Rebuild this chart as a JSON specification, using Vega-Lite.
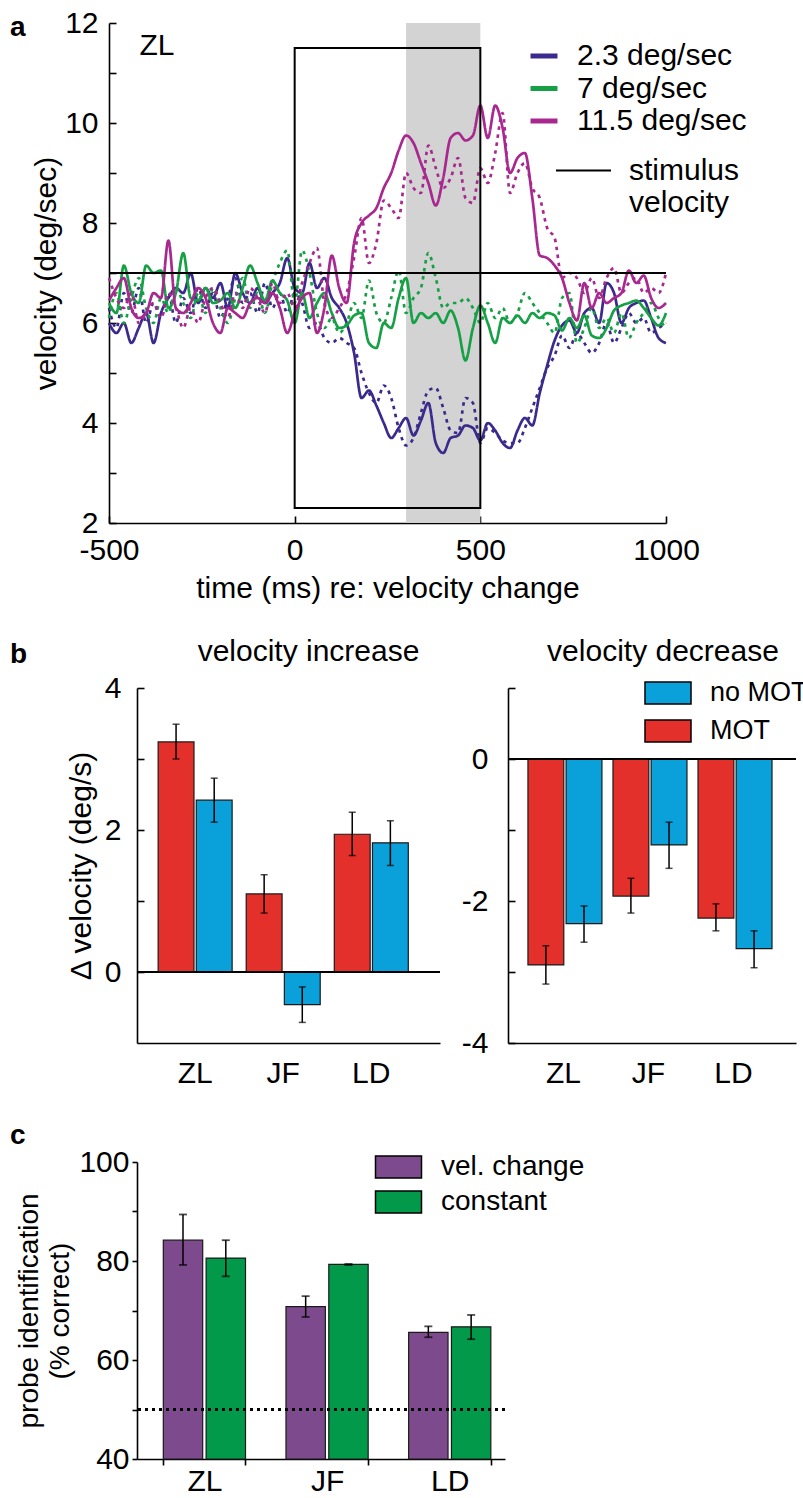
{
  "$schema": "https://vega.github.io/schema/vega-lite/v6.json",
  "background": "white",
  "padding": {"left": 10, "top": 8, "right": 0, "bottom": 0},
  "columns": 1,
  "spacing": 34,
  "resolve": {"scale": {"color": "independent", "xOffset": "independent", "x": "independent", "y": "independent", "strokeDash": "independent"}, "legend": {"color": "independent", "strokeDash": "independent"}},
  "config": {
    "font": "Liberation Sans",
    "view": {"stroke": null},
    "axis": {"domainColor": "black", "tickColor": "black", "labelColor": "black", "titleColor": "black", "grid": false, "labelFont": "Liberation Sans", "titleFont": "Liberation Sans", "titleFontWeight": "normal", "domainWidth": 1.6, "tickWidth": 1.6, "labelOverlap": false},
    "legend": {"labelFont": "Liberation Sans", "labelColor": "black", "labelLimit": 400},
    "title": {"font": "Liberation Sans", "color": "black"}
  },
  "datasets": {
    "trace": [
      {"t": -500, "bs": 6.0, "bd": 6.3, "gs": 6.4, "gd": 6.1, "ms": 6.45, "md": 6.9},
      {"t": -480, "bs": 5.8, "bd": 5.9, "gs": 6.2, "gd": 6.6, "ms": 6.7, "md": 6.5},
      {"t": -460, "bs": 6.0, "bd": 6.6, "gs": 7.15, "gd": 6.0, "ms": 6.9, "md": 6.3},
      {"t": -440, "bs": 5.6, "bd": 6.2, "gs": 6.6, "gd": 6.5, "ms": 6.3, "md": 6.6},
      {"t": -420, "bs": 5.9, "bd": 6.7, "gs": 6.4, "gd": 6.9, "ms": 6.1, "md": 6.0},
      {"t": -400, "bs": 6.2, "bd": 6.0, "gs": 7.15, "gd": 6.3, "ms": 6.2, "md": 6.2},
      {"t": -380, "bs": 5.6, "bd": 6.4, "gs": 7.0, "gd": 6.0, "ms": 6.6, "md": 6.4},
      {"t": -360, "bs": 6.2, "bd": 6.1, "gs": 7.05, "gd": 6.5, "ms": 6.5, "md": 6.1},
      {"t": -340, "bs": 6.5, "bd": 6.6, "gs": 6.3, "gd": 6.2, "ms": 7.65, "md": 6.6},
      {"t": -320, "bs": 6.7, "bd": 6.0, "gs": 6.6, "gd": 6.7, "ms": 6.3, "md": 6.3},
      {"t": -300, "bs": 6.6, "bd": 6.5, "gs": 7.4, "gd": 6.4, "ms": 6.2, "md": 5.9},
      {"t": -280, "bs": 7.0, "bd": 6.2, "gs": 6.5, "gd": 6.1, "ms": 6.4, "md": 6.3},
      {"t": -260, "bs": 6.4, "bd": 6.7, "gs": 6.45, "gd": 6.6, "ms": 6.7, "md": 6.0},
      {"t": -240, "bs": 6.7, "bd": 6.3, "gs": 6.7, "gd": 6.2, "ms": 6.5, "md": 6.5},
      {"t": -220, "bs": 6.5, "bd": 6.6, "gs": 6.4, "gd": 6.7, "ms": 6.0, "md": 6.7},
      {"t": -200, "bs": 6.8, "bd": 6.1, "gs": 6.45, "gd": 6.3, "ms": 5.8, "md": 6.4},
      {"t": -180, "bs": 6.3, "bd": 6.5, "gs": 6.6, "gd": 6.0, "ms": 6.3, "md": 6.1},
      {"t": -160, "bs": 7.0, "bd": 6.9, "gs": 6.3, "gd": 6.5, "ms": 6.2, "md": 6.6},
      {"t": -140, "bs": 6.6, "bd": 6.4, "gs": 6.7, "gd": 6.9, "ms": 6.1, "md": 6.3},
      {"t": -120, "bs": 6.4, "bd": 6.6, "gs": 7.15, "gd": 6.3, "ms": 6.4, "md": 6.7},
      {"t": -100, "bs": 6.7, "bd": 6.2, "gs": 6.8, "gd": 6.6, "ms": 6.5, "md": 6.5},
      {"t": -80, "bs": 6.4, "bd": 6.8, "gs": 6.45, "gd": 6.2, "ms": 6.4, "md": 6.2},
      {"t": -60, "bs": 6.6, "bd": 6.3, "gs": 6.85, "gd": 6.8, "ms": 6.6, "md": 6.8},
      {"t": -40, "bs": 6.8, "bd": 6.6, "gs": 6.6, "gd": 7.2, "ms": 6.3, "md": 6.4},
      {"t": -20, "bs": 7.3, "bd": 6.2, "gs": 6.45, "gd": 7.45, "ms": 5.8, "md": 6.6},
      {"t": 0, "bs": 6.7, "bd": 6.6, "gs": 6.0, "gd": 6.4, "ms": 6.2, "md": 6.3},
      {"t": 20, "bs": 6.6, "bd": 6.4, "gs": 6.6, "gd": 7.45, "ms": 6.5, "md": 6.8},
      {"t": 40, "bs": 7.2, "bd": 5.9, "gs": 6.1, "gd": 7.0, "ms": 6.6, "md": 7.2},
      {"t": 60, "bs": 6.7, "bd": 6.0, "gs": 6.4, "gd": 6.2, "ms": 5.8, "md": 7.5},
      {"t": 80, "bs": 6.9, "bd": 5.7, "gs": 6.6, "gd": 5.9, "ms": 6.3, "md": 6.4},
      {"t": 100, "bs": 6.5, "bd": 5.6, "gs": 6.2, "gd": 6.1, "ms": 7.35, "md": 6.1},
      {"t": 120, "bs": 6.3, "bd": 5.7, "gs": 5.9, "gd": 5.8, "ms": 6.7, "md": 6.3},
      {"t": 140, "bs": 6.0, "bd": 5.6, "gs": 5.95, "gd": 6.0, "ms": 6.4, "md": 6.6},
      {"t": 160, "bs": 5.4, "bd": 5.5, "gs": 6.15, "gd": 6.4, "ms": 7.6, "md": 7.3},
      {"t": 180, "bs": 4.5, "bd": 5.0, "gs": 6.2, "gd": 6.1, "ms": 8.0, "md": 8.1},
      {"t": 200, "bs": 4.65, "bd": 4.6, "gs": 5.6, "gd": 6.85, "ms": 8.15, "md": 7.2},
      {"t": 220, "bs": 4.35, "bd": 4.4, "gs": 5.5, "gd": 6.2, "ms": 8.3, "md": 7.6},
      {"t": 240, "bs": 4.0, "bd": 4.75, "gs": 6.0, "gd": 6.0, "ms": 8.7, "md": 8.45},
      {"t": 260, "bs": 3.7, "bd": 4.5, "gs": 5.9, "gd": 6.5, "ms": 9.0, "md": 8.3},
      {"t": 280, "bs": 3.9, "bd": 3.9, "gs": 6.5, "gd": 7.05, "ms": 9.45, "md": 8.1},
      {"t": 300, "bs": 4.1, "bd": 3.55, "gs": 6.9, "gd": 6.2, "ms": 9.75, "md": 9.0},
      {"t": 320, "bs": 3.75, "bd": 3.7, "gs": 6.0, "gd": 6.5, "ms": 9.6, "md": 8.7},
      {"t": 340, "bs": 4.05, "bd": 4.2, "gs": 6.2, "gd": 6.7, "ms": 9.2, "md": 8.6},
      {"t": 360, "bs": 4.4, "bd": 4.65, "gs": 6.1, "gd": 7.4, "ms": 8.8, "md": 9.55},
      {"t": 380, "bs": 3.6, "bd": 4.7, "gs": 6.2, "gd": 6.9, "ms": 8.35, "md": 9.1},
      {"t": 400, "bs": 3.4, "bd": 4.3, "gs": 6.0, "gd": 6.3, "ms": 8.9, "md": 8.7},
      {"t": 420, "bs": 3.7, "bd": 3.85, "gs": 6.25, "gd": 6.4, "ms": 9.7, "md": 8.9},
      {"t": 440, "bs": 3.75, "bd": 3.8, "gs": 5.9, "gd": 6.4, "ms": 9.8, "md": 9.3},
      {"t": 460, "bs": 3.95, "bd": 4.5, "gs": 5.25, "gd": 6.5, "ms": 9.65, "md": 8.5},
      {"t": 480, "bs": 3.9, "bd": 4.4, "gs": 5.9, "gd": 6.3, "ms": 9.75, "md": 8.4},
      {"t": 500, "bs": 3.65, "bd": 3.6, "gs": 6.35, "gd": 6.0, "ms": 10.35, "md": 9.1},
      {"t": 520, "bs": 4.0, "bd": 3.9, "gs": 6.0, "gd": 6.4, "ms": 9.7, "md": 8.8},
      {"t": 540, "bs": 3.85, "bd": 3.8, "gs": 5.6, "gd": 6.1, "ms": 10.35, "md": 9.4},
      {"t": 560, "bs": 3.6, "bd": 3.65, "gs": 6.1, "gd": 6.3, "ms": 9.9, "md": 10.2},
      {"t": 580, "bs": 3.5, "bd": 3.6, "gs": 6.0, "gd": 6.0, "ms": 9.0, "md": 8.6},
      {"t": 600, "bs": 3.85, "bd": 3.6, "gs": 6.15, "gd": 6.2, "ms": 9.3, "md": 9.0},
      {"t": 620, "bs": 4.1, "bd": 3.9, "gs": 6.0, "gd": 6.6, "ms": 9.4, "md": 9.2},
      {"t": 640, "bs": 3.95, "bd": 4.3, "gs": 6.2, "gd": 6.4, "ms": 8.5, "md": 8.7},
      {"t": 660, "bs": 4.6, "bd": 4.7, "gs": 6.1, "gd": 6.2, "ms": 7.35, "md": 8.5},
      {"t": 680, "bs": 5.15, "bd": 5.1, "gs": 6.2, "gd": 6.0, "ms": 7.3, "md": 7.9},
      {"t": 700, "bs": 5.65, "bd": 5.35, "gs": 6.15, "gd": 5.8, "ms": 7.15, "md": 7.7},
      {"t": 720, "bs": 5.95, "bd": 5.75, "gs": 5.85, "gd": 6.5, "ms": 6.9, "md": 6.9},
      {"t": 740, "bs": 6.05, "bd": 5.5, "gs": 6.1, "gd": 6.6, "ms": 6.4, "md": 7.0},
      {"t": 760, "bs": 5.8, "bd": 5.8, "gs": 5.9, "gd": 5.6, "ms": 6.05, "md": 6.9},
      {"t": 780, "bs": 6.2, "bd": 5.6, "gs": 6.15, "gd": 5.9, "ms": 6.8, "md": 6.6},
      {"t": 800, "bs": 6.3, "bd": 5.4, "gs": 5.75, "gd": 6.3, "ms": 6.3, "md": 6.9},
      {"t": 820, "bs": 6.0, "bd": 5.6, "gs": 5.7, "gd": 5.9, "ms": 6.6, "md": 6.5},
      {"t": 840, "bs": 6.8, "bd": 6.0, "gs": 5.9, "gd": 6.1, "ms": 6.4, "md": 6.9},
      {"t": 860, "bs": 6.6, "bd": 5.6, "gs": 6.25, "gd": 5.8, "ms": 6.5, "md": 7.1},
      {"t": 880, "bs": 6.0, "bd": 5.9, "gs": 6.35, "gd": 6.2, "ms": 6.6, "md": 6.6},
      {"t": 900, "bs": 6.3, "bd": 6.2, "gs": 6.4, "gd": 5.7, "ms": 7.05, "md": 6.8},
      {"t": 920, "bs": 6.4, "bd": 6.0, "gs": 6.45, "gd": 6.0, "ms": 6.8, "md": 6.9},
      {"t": 940, "bs": 6.45, "bd": 6.1, "gs": 6.3, "gd": 6.2, "ms": 6.95, "md": 6.6},
      {"t": 960, "bs": 6.1, "bd": 5.8, "gs": 6.1, "gd": 6.4, "ms": 6.5, "md": 6.7},
      {"t": 980, "bs": 5.7, "bd": 5.9, "gs": 5.95, "gd": 6.1, "ms": 6.3, "md": 6.6},
      {"t": 1000, "bs": 5.6, "bd": 6.0, "gs": 6.2, "gd": 5.9, "ms": 6.4, "md": 7.0}
    ],
    "inc": [
      {"subj": "ZL", "cond": "MOT", "val": 3.24, "lo": 3.0, "hi": 3.49},
      {"subj": "ZL", "cond": "no MOT", "val": 2.42, "lo": 2.11, "hi": 2.73},
      {"subj": "JF", "cond": "MOT", "val": 1.1, "lo": 0.83, "hi": 1.37},
      {"subj": "JF", "cond": "no MOT", "val": -0.46, "lo": -0.71, "hi": -0.21},
      {"subj": "LD", "cond": "MOT", "val": 1.94, "lo": 1.64, "hi": 2.25},
      {"subj": "LD", "cond": "no MOT", "val": 1.82, "lo": 1.5, "hi": 2.13}
    ],
    "dec": [
      {"subj": "ZL", "cond": "MOT", "val": -2.9, "lo": -3.17, "hi": -2.63},
      {"subj": "ZL", "cond": "no MOT", "val": -2.32, "lo": -2.58, "hi": -2.07},
      {"subj": "JF", "cond": "MOT", "val": -1.93, "lo": -2.17, "hi": -1.68},
      {"subj": "JF", "cond": "no MOT", "val": -1.21, "lo": -1.54, "hi": -0.89},
      {"subj": "LD", "cond": "MOT", "val": -2.24, "lo": -2.42, "hi": -2.04},
      {"subj": "LD", "cond": "no MOT", "val": -2.67, "lo": -2.94, "hi": -2.42}
    ],
    "probe": [
      {"subj": "ZL", "cond": "vel. change", "val": 84.2, "lo": 79.2, "hi": 89.4},
      {"subj": "ZL", "cond": "constant", "val": 80.6, "lo": 76.9, "hi": 84.2},
      {"subj": "JF", "cond": "vel. change", "val": 70.8, "lo": 68.7, "hi": 72.9},
      {"subj": "JF", "cond": "constant", "val": 79.3, "lo": 79.2, "hi": 79.4},
      {"subj": "LD", "cond": "vel. change", "val": 65.6, "lo": 64.6, "hi": 66.8},
      {"subj": "LD", "cond": "constant", "val": 66.7, "lo": 64.2, "hi": 69.1}
    ],
    "blank": [{"n": 0}]
  },
  "concat": [
    {
      "width": 557,
      "height": 500,
      "title": {"text": "a", "anchor": "start", "frame": "group", "fontSize": 28, "fontWeight": "bold", "dx": -99, "dy": 48, "offset": 0, "baseline": "middle"},
      "resolve": {"scale": {"strokeDash": "independent"}, "legend": {"strokeDash": "independent"}},
      "layer": [
        {
          "data": {"values": [{"a": 300, "b": 500}]},
          "mark": {"type": "rect", "color": "#d3d3d3"},
          "encoding": {
            "x": {"field": "a", "type": "quantitative", "scale": {"domain": [-500, 1000], "nice": false}},
            "x2": {"field": "b"}
          }
        },
        {
          "data": {"name": "trace"},
          "transform": [{"fold": ["bs", "bd", "gs", "gd", "ms", "md"], "as": ["series", "v"]}],
          "mark": {"type": "line", "interpolate": "monotone", "strokeWidth": 2.7, "strokeCap": "butt"},
          "encoding": {
            "x": {"field": "t", "type": "quantitative", "scale": {"domain": [-500, 1000], "nice": false},
              "axis": {"values": [-500, 0, 500, 1000], "labelExpr": "datum.value + ''", "title": "time (ms) re: velocity change", "titleFontSize": 30, "labelFontSize": 30, "tickSize": -7, "labelPadding": 19, "titlePadding": 8, "labelFlush": false}},
            "y": {"field": "v", "type": "quantitative", "scale": {"domain": [2, 12], "nice": false, "zero": false},
              "axis": {"values": [2, 3, 4, 5, 6, 7, 8, 9, 10, 11, 12], "labelExpr": "datum.value % 2 == 0 ? datum.value + '' : ''", "title": "velocity (deg/sec)", "titleFontSize": 30, "labelFontSize": 30, "tickSize": -7, "labelPadding": 18, "titlePadding": 3}},
            "color": {"field": "series", "type": "nominal",
              "scale": {"domain": ["bs", "bd", "gs", "gd", "ms", "md"], "range": ["#3b2a8c", "#3b2a8c", "#16a046", "#16a046", "#a8288f", "#a8288f"]},
              "legend": {"orient": "none", "legendX": 419, "legendY": 17, "values": ["bs", "gs", "ms"], "title": null,
                "labelExpr": "datum.value == 'bs' ? '2.3 deg/sec' : datum.value == 'gs' ? '7 deg/sec' : '11.5 deg/sec'",
                "symbolType": "stroke", "symbolSize": 729, "symbolStrokeWidth": 5, "labelFontSize": 30, "rowPadding": 1.5, "labelOffset": 17}},
            "strokeDash": {"field": "series", "type": "nominal",
              "scale": {"domain": ["bs", "bd", "gs", "gd", "ms", "md"], "range": [[1, 0], [3.5, 4.5], [1, 0], [3.5, 4.5], [1, 0], [3.5, 4.5]]},
              "legend": null}
          }
        },
        {
          "data": {"values": [{"x1": 0, "x2": 500, "y1": 2.3, "y2": 11.5}]},
          "mark": {"type": "rect", "fillOpacity": 0, "stroke": "black", "strokeWidth": 2},
          "encoding": {
            "x": {"field": "x1", "type": "quantitative"},
            "x2": {"field": "x2"},
            "y": {"field": "y1", "type": "quantitative"},
            "y2": {"field": "y2"}
          }
        },
        {
          "data": {"values": [{"sv": 7, "lab": "stimulus velocity"}]},
          "mark": {"type": "rule", "color": "black", "strokeWidth": 1.8},
          "encoding": {
            "y": {"field": "sv", "type": "quantitative"},
            "strokeDash": {"field": "lab", "type": "nominal", "scale": {"range": [[1, 0]]},
              "legend": {"orient": "none", "legendX": 446, "legendY": 119, "title": null, "symbolType": "stroke", "symbolSize": 3025, "symbolStrokeWidth": 1.8, "symbolStrokeColor": "black", "labelFontSize": 30, "labelExpr": "['stimulus', 'velocity']", "labelOffset": 17}}
          }
        },
        {
          "data": {"values": [{"t": -418, "v": 11.54, "txt": "ZL"}]},
          "mark": {"type": "text", "fontSize": 30, "align": "left", "baseline": "middle", "color": "black"},
          "encoding": {
            "x": {"field": "t", "type": "quantitative"},
            "y": {"field": "v", "type": "quantitative"},
            "text": {"field": "txt"}
          }
        }
      ]
    },
    {
      "title": {"text": "b", "anchor": "start", "frame": "group", "fontSize": 28, "fontWeight": "bold", "dx": -99, "dy": 26, "offset": -20, "baseline": "middle"},
      "bounds": "flush",
      "spacing": 27,
      "hconcat": [
        {"width": 1, "height": 1, "data": {"name": "blank"}, "mark": {"type": "point", "opacity": 0, "size": 0}},
        {
          "spacing": 20,
          "resolve": {"scale": {"color": "independent", "y": "independent"}, "legend": {"color": "independent"}},
          "hconcat": [
            {
              "width": 303,
              "height": 355,
              "title": {"text": "velocity increase", "fontSize": 30, "fontWeight": "normal", "dx": 20, "offset": 6},
              "data": {"name": "inc"},
              "layer": [
                {
                  "mark": {"type": "bar", "stroke": "#1a1a1a", "strokeWidth": 1.2},
                  "encoding": {
                    "x": {"field": "subj", "type": "nominal", "sort": ["ZL", "JF", "LD"], "scale": {"paddingInner": 0.16, "paddingOuter": 0.3, "align": 0.4},
                      "axis": {"title": null, "ticks": false, "labelFontSize": 30, "labelPadding": 15, "labelAngle": 0}},
                    "xOffset": {"field": "cond", "type": "nominal", "sort": ["MOT", "no MOT"], "scale": {"paddingInner": 0.06}},
                    "y": {"field": "val", "type": "quantitative", "scale": {"domain": [-1, 4], "nice": false},
                      "axis": {"values": [0, 1, 2, 3, 4], "labelExpr": "datum.value % 2 == 0 ? datum.value + '' : ''", "title": "Δ velocity (deg/s)", "titleFontSize": 30, "labelFontSize": 30, "tickSize": -7, "labelPadding": 23, "titlePadding": 8}},
                    "color": {"field": "cond", "type": "nominal", "scale": {"domain": ["MOT", "no MOT"], "range": ["#e3302b", "#0aa0d9"]}, "legend": null}
                  }
                },
                {
                  "mark": {"type": "rule", "color": "black", "strokeWidth": 1.5},
                  "encoding": {
                    "x": {"field": "subj", "type": "nominal", "sort": ["ZL", "JF", "LD"]},
                    "xOffset": {"field": "cond", "type": "nominal", "sort": ["MOT", "no MOT"]},
                    "y": {"field": "lo", "type": "quantitative"}, "y2": {"field": "hi"}}
                },
                {
                  "mark": {"type": "tick", "color": "black", "size": 7, "thickness": 1.5},
                  "encoding": {
                    "x": {"field": "subj", "type": "nominal", "sort": ["ZL", "JF", "LD"]},
                    "xOffset": {"field": "cond", "type": "nominal", "sort": ["MOT", "no MOT"]},
                    "y": {"field": "lo", "type": "quantitative"}}
                },
                {
                  "mark": {"type": "tick", "color": "black", "size": 7, "thickness": 1.5},
                  "encoding": {
                    "x": {"field": "subj", "type": "nominal", "sort": ["ZL", "JF", "LD"]},
                    "xOffset": {"field": "cond", "type": "nominal", "sort": ["MOT", "no MOT"]},
                    "y": {"field": "hi", "type": "quantitative"}}
                },
                {
                  "mark": {"type": "rule", "color": "black", "strokeWidth": 1.6},
                  "encoding": {"y": {"datum": 0}}
                }
              ]
            },
            {
              "width": 288,
              "height": 355,
              "title": {"text": "velocity decrease", "fontSize": 30, "fontWeight": "normal", "dx": 11, "offset": 6},
              "data": {"name": "dec"},
              "layer": [
                {
                  "mark": {"type": "bar", "stroke": "#1a1a1a", "strokeWidth": 1.2},
                  "encoding": {
                    "x": {"field": "subj", "type": "nominal", "sort": ["ZL", "JF", "LD"], "scale": {"paddingInner": 0.165, "paddingOuter": 0.276, "align": 0.425},
                      "axis": {"title": null, "ticks": false, "labelFontSize": 30, "labelPadding": 15, "labelAngle": 0}},
                    "xOffset": {"field": "cond", "type": "nominal", "sort": ["MOT", "no MOT"], "scale": {"paddingInner": 0.06}},
                    "y": {"field": "val", "type": "quantitative", "scale": {"domain": [-4, 1], "nice": false},
                      "axis": {"values": [-4, -3, -2, -1, 0, 1], "labelExpr": "datum.value % 2 == 0 ? datum.value + '' : ''", "title": null, "labelFontSize": 30, "tickSize": -7, "labelPadding": 27}},
                    "color": {"field": "cond", "type": "nominal", "scale": {"domain": ["MOT", "no MOT"], "range": ["#e3302b", "#0aa0d9"]},
                      "legend": {"orient": "none", "legendX": 146.5, "legendY": -8.5, "values": ["no MOT", "MOT"], "title": null, "symbolType": "M-2,-0.957H2V0.957H-2Z", "symbolSize": 529, "symbolStrokeColor": "black", "symbolStrokeWidth": 1.5, "symbolOpacity": 1, "labelFontSize": 27, "rowPadding": 9, "labelOffset": 28.5}}
                  }
                },
                {
                  "mark": {"type": "rule", "color": "black", "strokeWidth": 1.5},
                  "encoding": {
                    "x": {"field": "subj", "type": "nominal", "sort": ["ZL", "JF", "LD"]},
                    "xOffset": {"field": "cond", "type": "nominal", "sort": ["MOT", "no MOT"]},
                    "y": {"field": "lo", "type": "quantitative"}, "y2": {"field": "hi"}}
                },
                {
                  "mark": {"type": "tick", "color": "black", "size": 7, "thickness": 1.5},
                  "encoding": {
                    "x": {"field": "subj", "type": "nominal", "sort": ["ZL", "JF", "LD"]},
                    "xOffset": {"field": "cond", "type": "nominal", "sort": ["MOT", "no MOT"]},
                    "y": {"field": "lo", "type": "quantitative"}}
                },
                {
                  "mark": {"type": "tick", "color": "black", "size": 7, "thickness": 1.5},
                  "encoding": {
                    "x": {"field": "subj", "type": "nominal", "sort": ["ZL", "JF", "LD"]},
                    "xOffset": {"field": "cond", "type": "nominal", "sort": ["MOT", "no MOT"]},
                    "y": {"field": "hi", "type": "quantitative"}}
                },
                {
                  "mark": {"type": "rule", "color": "black", "strokeWidth": 1.6},
                  "encoding": {"y": {"datum": 0}}
                }
              ]
            }
          ]
        }
      ]
    },
    {
      "title": {"text": "c", "anchor": "start", "frame": "group", "fontSize": 28, "fontWeight": "bold", "dx": -99, "offset": 0, "baseline": "middle", "dy": 17},
      "bounds": "flush",
      "spacing": 27,
      "hconcat": [
        {"width": 1, "height": 1, "data": {"name": "blank"}, "mark": {"type": "point", "opacity": 0, "size": 0}},
        {
          "width": 368,
          "height": 297,
          "data": {"name": "probe"},
          "layer": [
            {
              "mark": {"type": "bar", "stroke": "#1a1a1a", "strokeWidth": 1.2},
              "encoding": {
                "x": {"field": "subj", "type": "nominal", "sort": ["ZL", "JF", "LD"], "scale": {"paddingInner": 0.33, "paddingOuter": 0.165, "align": 0.65},
                  "axis": {"title": null, "tickBand": "extent", "tickSize": 6, "labelFontSize": 30, "labelPadding": 1, "labelAngle": 0}},
                "xOffset": {"field": "cond", "type": "nominal", "sort": ["vel. change", "constant"], "scale": {"paddingInner": 0.08}},
                "y": {"field": "val", "type": "quantitative", "scale": {"domain": [40, 100], "nice": false, "zero": false},
                  "axis": {"values": [40, 50, 60, 70, 80, 90, 100], "labelExpr": "datum.value % 20 == 0 ? datum.value + '' : ''", "title": ["probe identification", "(% correct)"], "titleFontSize": 28, "titleLineHeight": 31, "labelFontSize": 30, "tickSize": 5, "labelPadding": 3, "titlePadding": 4}},
                "y2": {"datum": 40},
                "color": {"field": "cond", "type": "nominal", "scale": {"domain": ["vel. change", "constant"], "range": ["#7d4b8d", "#02994a"]},
                  "legend": {"orient": "none", "legendX": 275.5, "legendY": -9, "values": ["vel. change", "constant"], "title": null, "symbolType": "M-2,-0.957H2V0.957H-2Z", "symbolSize": 529, "symbolStrokeColor": "black", "symbolStrokeWidth": 1.5, "symbolOpacity": 1, "labelFontSize": 28, "rowPadding": 5, "labelOffset": 28.5}}
              }
            },
            {
              "mark": {"type": "rule", "color": "black", "strokeWidth": 1.5},
              "encoding": {
                "x": {"field": "subj", "type": "nominal", "sort": ["ZL", "JF", "LD"]},
                "xOffset": {"field": "cond", "type": "nominal", "sort": ["vel. change", "constant"]},
                "y": {"field": "lo", "type": "quantitative"}, "y2": {"field": "hi"}}
            },
            {
              "mark": {"type": "tick", "color": "black", "size": 8, "thickness": 1.8},
              "encoding": {
                "x": {"field": "subj", "type": "nominal", "sort": ["ZL", "JF", "LD"]},
                "xOffset": {"field": "cond", "type": "nominal", "sort": ["vel. change", "constant"]},
                "y": {"field": "lo", "type": "quantitative"}}
            },
            {
              "mark": {"type": "tick", "color": "black", "size": 8, "thickness": 1.8},
              "encoding": {
                "x": {"field": "subj", "type": "nominal", "sort": ["ZL", "JF", "LD"]},
                "xOffset": {"field": "cond", "type": "nominal", "sort": ["vel. change", "constant"]},
                "y": {"field": "hi", "type": "quantitative"}}
            },
            {
              "mark": {"type": "rule", "color": "black", "strokeWidth": 2, "strokeDash": [3, 4]},
              "encoding": {"y": {"datum": 50}}
            }
          ]
        }
      ]
    }
  ]
}
